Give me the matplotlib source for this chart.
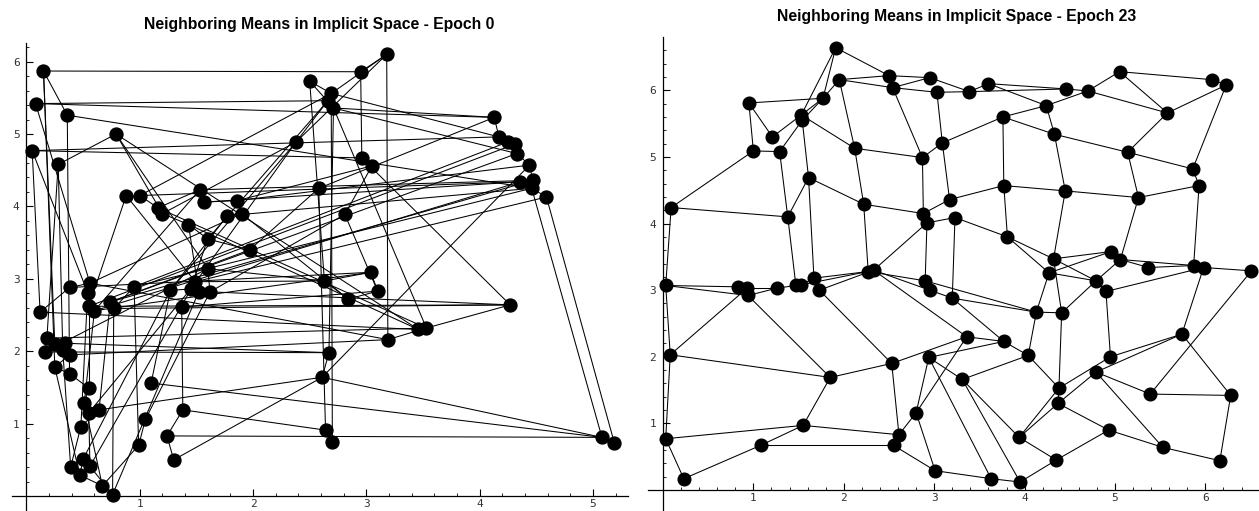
import matplotlib
matplotlib.use("Agg")
import matplotlib.pyplot as plt
from matplotlib.ticker import FixedLocator
import numpy as np

# ---------------- data: epoch 0 (left) ----------------
left_x = [0.15, 0.08, 0.36, 0.05, 0.28, 0.79, 0.88, 1.00, 1.16, 1.20,
          1.53, 1.57, 1.43, 1.60, 1.77, 1.86, 1.90, 1.97, 2.50, 2.38,
          2.58, 3.18, 2.95, 2.69, 2.66, 2.71, 4.13, 4.17, 4.25, 4.31,
          4.33, 4.44, 4.36, 4.47, 4.46, 4.59, 2.96, 3.05, 2.81, 1.60,
          0.38, 0.56, 0.54, 0.95, 1.27, 1.49, 1.45, 1.52, 1.62, 1.37,
          0.74, 0.77, 0.55, 0.60, 0.12, 0.18, 0.16, 0.25, 0.34, 0.32,
          0.38, 0.25, 0.38, 0.55, 0.51, 0.55, 0.64, 0.48, 1.10, 1.05,
          1.38, 1.24, 1.30, 0.99, 0.39, 0.50, 0.47, 0.56, 0.67, 0.76,
          3.04, 2.63, 3.10, 2.84, 4.27, 3.46, 3.53, 3.19, 2.67, 2.61,
          2.64, 2.70, 5.08, 5.19]
left_y = [5.87, 5.42, 5.26, 4.77, 4.58, 5.00, 4.15, 4.15, 3.98, 3.90,
          4.23, 4.06, 3.75, 3.55, 3.87, 4.08, 3.90, 3.40, 5.73, 4.89,
          4.25, 6.10, 5.86, 5.56, 5.46, 5.36, 5.23, 4.96, 4.89, 4.86,
          4.73, 4.57, 4.34, 4.36, 4.25, 4.13, 4.67, 4.56, 3.89, 3.14,
          2.88, 2.94, 2.81, 2.89, 2.84, 2.96, 2.86, 2.82, 2.82, 2.61,
          2.68, 2.59, 2.62, 2.56, 2.54, 2.18, 1.99, 2.10, 2.11, 2.02,
          1.95, 1.78, 1.69, 1.49, 1.29, 1.15, 1.19, 0.96, 1.56, 1.06,
          1.19, 0.83, 0.50, 0.70, 0.40, 0.51, 0.29, 0.41, 0.14, 0.02,
          3.09, 2.97, 2.83, 2.72, 2.64, 2.30, 2.32, 2.16, 1.98, 1.64,
          0.91, 0.75, 0.81, 0.73]
left_edges = [
    (0, 22), (0, 2), (0, 57), (0, 61), (1, 24), (1, 26), (1, 41), (2, 34), (2, 62),
    (3, 27), (3, 36), (3, 54), (3, 42), (4, 5), (4, 55), (4, 59), (5, 9), (5, 39),
    (5, 85), (6, 7), (6, 45), (6, 52), (7, 32), (7, 23), (7, 8), (8, 86), (8, 10),
    (9, 12), (9, 19), (10, 33), (10, 11), (10, 53), (11, 32), (11, 15), (12, 85),
    (12, 13), (12, 47), (13, 24), (13, 17), (13, 46), (14, 34), (14, 16), (14, 44),
    (15, 31), (15, 37), (15, 16), (16, 83), (16, 41), (17, 20), (17, 50), (18, 81),
    (18, 25), (18, 23), (19, 24), (19, 46), (19, 44), (19, 21), (20, 26), (20, 90),
    (21, 22), (21, 87), (21, 23), (22, 36), (23, 27), (25, 88), (25, 86), (25, 26),
    (25, 30), (26, 27), (27, 28), (28, 29), (29, 30), (30, 31), (31, 33), (32, 33),
    (33, 34), (28, 43), (29, 52), (30, 50), (31, 89), (32, 53), (33, 50), (34, 43),
    (35, 45), (34, 92), (35, 93), (36, 37), (36, 84), (37, 38), (38, 82), (38, 48),
    (39, 48), (39, 56), (39, 81), (40, 54), (40, 80), (40, 41), (41, 87), (42, 52),
    (42, 67), (43, 73), (43, 51), (44, 68), (44, 75), (44, 46), (45, 77), (45, 81),
    (46, 47), (46, 65), (47, 48), (48, 69), (48, 84), (49, 70), (49, 82), (50, 51),
    (50, 66), (51, 79), (51, 84), (52, 84), (52, 63), (53, 80), (53, 64), (54, 85),
    (55, 86), (55, 56), (56, 57), (56, 88), (57, 58), (57, 60), (58, 88), (58, 59),
    (59, 60), (59, 74), (60, 61), (60, 87), (61, 62), (61, 76), (62, 63), (63, 64),
    (64, 65), (64, 78), (65, 66), (65, 77), (66, 89), (66, 67), (67, 74), (68, 92),
    (69, 73), (70, 71), (70, 90), (71, 72), (71, 92), (72, 89), (74, 75), (74, 76),
    (75, 76), (75, 77), (76, 78), (77, 79), (78, 79), (80, 81), (80, 82), (81, 83),
    (82, 83), (84, 86), (85, 86), (86, 87), (88, 89), (89, 92), (90, 91), (91, 23),
    (92, 93), (47, 79), (73, 78), (35, 34)]

# ---------------- data: epoch 23 (right) ----------------
right_x = [1.91, 2.50, 2.54, 2.95, 3.03, 1.95, 1.77, 0.95, 1.53, 1.54,
           1.21, 1.00, 1.29, 2.12, 2.87, 3.09, 1.61, 0.09, 1.38, 2.22,
           2.88, 2.92, 3.17, 3.23, 3.39, 3.60, 4.46, 4.24, 4.70, 5.05,
           6.07, 6.23, 5.58, 3.76, 4.33, 5.14, 5.86, 5.93, 5.26, 4.45,
           3.77, 3.81, 4.32, 4.96, 5.06, 5.37, 5.87, 5.98, 6.51, 0.03,
           0.83, 0.93, 0.94, 1.26, 1.47, 1.53, 1.67, 1.73, 2.27, 2.33,
           2.90, 2.95, 3.20, 0.08, 1.85, 2.53, 2.94, 2.80, 1.55, 0.03,
           2.61, 1.08, 2.55, 0.23, 3.01, 3.63, 3.95, 4.35, 3.94, 4.93,
           5.53, 6.16, 6.28, 5.39, 5.74, 4.79, 4.95, 4.38, 4.37, 4.04,
           3.31, 3.77, 3.36, 4.13, 4.41, 4.90, 4.79, 4.27]
right_y = [6.64, 6.22, 6.04, 6.19, 5.97, 6.16, 5.88, 5.81, 5.63, 5.55,
           5.30, 5.09, 5.08, 5.13, 4.99, 5.21, 4.69, 4.24, 4.10, 4.29,
           4.15, 4.01, 4.36, 4.09, 5.98, 6.10, 6.02, 5.77, 5.99, 6.28,
           6.16, 6.08, 5.66, 5.60, 5.34, 5.07, 4.82, 4.57, 4.39, 4.49,
           4.57, 3.80, 3.47, 3.58, 3.46, 3.34, 3.37, 3.34, 3.29, 3.07,
           3.05, 3.03, 2.92, 3.03, 3.07, 3.08, 3.18, 3.00, 3.28, 3.30,
           3.14, 3.00, 2.88, 2.03, 1.69, 1.90, 1.99, 1.16, 0.97, 0.77,
           0.83, 0.67, 0.67, 0.17, 0.29, 0.17, 0.12, 0.45, 0.79, 0.90,
           0.64, 0.44, 1.42, 1.44, 2.34, 1.77, 2.00, 1.53, 1.30, 2.02,
           1.66, 2.23, 2.30, 2.67, 2.66, 2.98, 3.14, 3.26]
right_edges = [
    (0, 1), (0, 6), (0, 8), (5, 6), (6, 8), (6, 9), (7, 6), (5, 1), (5, 2), (1, 3),
    (2, 3), (2, 4), (3, 24), (4, 24), (24, 25), (25, 26), (25, 27), (24, 26), (5, 13),
    (8, 13), (13, 14), (2, 14), (14, 15), (4, 15), (15, 33), (33, 27), (33, 34),
    (33, 40), (14, 20), (15, 22), (13, 19), (9, 16), (7, 10), (7, 11), (11, 12),
    (11, 17), (10, 8), (12, 9), (12, 18), (17, 18), (17, 49), (18, 16), (18, 54),
    (16, 19), (16, 56), (19, 20), (19, 58), (20, 22), (20, 21), (21, 23), (21, 60),
    (21, 59), (22, 40), (23, 41), (23, 62), (40, 39), (40, 41), (39, 34), (38, 39),
    (39, 42), (41, 42), (41, 97), (42, 43), (42, 96), (97, 96), (97, 43), (97, 93),
    (42, 94), (26, 28), (27, 28), (28, 29), (28, 32), (29, 30), (29, 32), (30, 31),
    (31, 32), (31, 36), (32, 35), (34, 35), (35, 36), (35, 38), (36, 37), (37, 38),
    (37, 46), (27, 34), (38, 44), (43, 44), (44, 45), (45, 46), (44, 46), (46, 47),
    (47, 48), (96, 44), (95, 96), (95, 47), (95, 86), (47, 84), (48, 83), (84, 82),
    (84, 86), (84, 85), (83, 82), (83, 85), (82, 81), (81, 80), (80, 79), (80, 85),
    (79, 88), (79, 77), (86, 87), (85, 88), (88, 78), (87, 78), (78, 77), (78, 90),
    (77, 76), (76, 75), (76, 90), (75, 74), (75, 66), (89, 87), (87, 88), (93, 94),
    (93, 89), (94, 87), (94, 96), (62, 93), (60, 93), (62, 91), (91, 92), (91, 89),
    (90, 89), (59, 92), (49, 50), (49, 52), (49, 63), (50, 51), (51, 53), (52, 53),
    (53, 54), (54, 55), (55, 58), (56, 58), (57, 59), (55, 56), (58, 59), (58, 60),
    (59, 61), (61, 62), (63, 51), (63, 64), (63, 69), (52, 64), (64, 65), (64, 68),
    (57, 65), (65, 92), (65, 70), (66, 67), (66, 91), (66, 90), (67, 92), (67, 70),
    (67, 74), (68, 69), (68, 71), (68, 70), (70, 72), (71, 72), (71, 73), (69, 73),
    (72, 74)]

left_title = "Neighboring Means in Implicit Space - Epoch 0"
right_title = "Neighboring Means in Implicit Space - Epoch 23"
left_xticks = [1, 2, 3, 4, 5]
left_yticks = [1, 2, 3, 4, 5, 6]
right_xticks = [1, 2, 3, 4, 5, 6]
right_yticks = [1, 2, 3, 4, 5, 6]

# ---------------- figure ----------------
W, H = 1259, 511
fig = plt.figure(figsize=(W / 100, H / 100), dpi=100)


def px_axes(x0, x1, ytop, ybot):
    return fig.add_axes([x0 / W, 1 - ybot / H, (x1 - x0) / W, (ybot - ytop) / H])


def style(ax, xt, yt, xlim, ylim):
    ax.set_xlim(*xlim)
    ax.set_ylim(*ylim)
    for s in ("top", "right"):
        ax.spines[s].set_visible(False)
    for s in ("left", "bottom"):
        ax.spines[s].set_position(("data", 0))
        ax.spines[s].set_linewidth(0.9)
    ax.xaxis.set_major_locator(FixedLocator(xt))
    ax.yaxis.set_major_locator(FixedLocator(yt))
    xm = [round(v, 2) for v in np.arange(0.2, xlim[1], 0.2) if abs(v - round(v)) > 1e-6]
    ym = [round(v, 2) for v in np.arange(0.2, ylim[1], 0.2) if abs(v - round(v)) > 1e-6]
    ax.xaxis.set_minor_locator(FixedLocator(xm))
    ax.yaxis.set_minor_locator(FixedLocator(ym))
    ax.tick_params(which="major", direction="in", length=5, width=0.8,
                   labelsize=8, labelcolor="#333333", pad=2)
    ax.tick_params(axis="y", which="major", pad=5)
    ax.tick_params(which="minor", direction="in", length=2.5, width=0.6)
    for lab in ax.get_xticklabels() + ax.get_yticklabels():
        lab.set_family("DejaVu Sans Mono")
    ax.set_facecolor("none")


def draw(ax, xs, ys, edges, ms):
    for i, j in edges:
        ax.plot([xs[i], xs[j]], [ys[i], ys[j]], color="black", lw=0.75,
                solid_capstyle="round", zorder=2, clip_on=False)
    ax.plot(xs, ys, "o", color="black", ms=ms, zorder=3, clip_on=False)


axL = px_axes(12, 628, 43, 511)
style(axL, left_xticks, left_yticks, (-0.128, 5.31), (-0.207, 6.257))
draw(axL, left_x, left_y, left_edges, 9.3)

axR = px_axes(648, 1259, 37, 511)
style(axR, right_xticks, right_yticks, (-0.166, 6.593), (-0.315, 6.80))
draw(axR, right_x, right_y, right_edges, 9.1)

tfont = dict(fontweight="bold", fontsize=11.3, ha="center", va="center",
             family=["Liberation Sans Narrow", "Liberation Sans"], color="black")
fig.text(319.5 / W, 1 - 24 / H, left_title, **tfont)
fig.text(957 / W, 1 - 17 / H, right_title, **tfont)

fig.savefig("out.png", dpi=100, facecolor="white")
